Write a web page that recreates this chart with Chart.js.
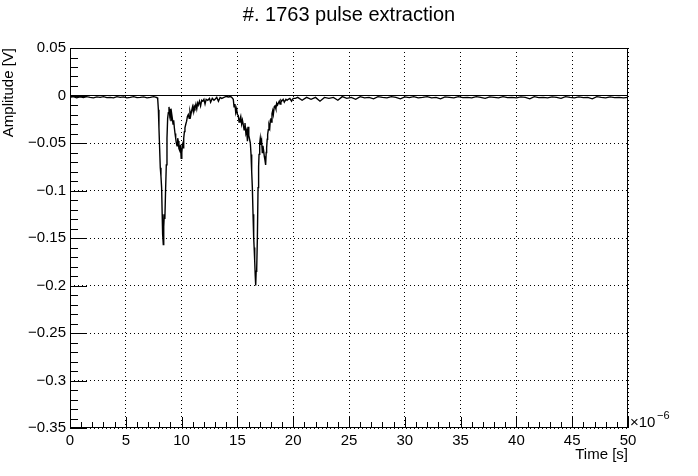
<!DOCTYPE html>
<html>
<head>
<meta charset="utf-8">
<title>#. 1763 pulse extraction</title>
<script src="https://cdn.jsdelivr.net/npm/chart.js@4.4.1/dist/chart.umd.min.js"></script>
<style>
  html, body { margin: 0; padding: 0; background: #fff; }
  #wrap { width: 698px; height: 476px; }
</style>
</head>
<body>
<div id="wrap"><canvas id="pulse" width="698" height="476"></canvas></div>
<script>
// waveform samples (time in µs, amplitude in V)
const waveTime = [
  // baseline before the first pulse
  0.0, 0.3, 0.6, 0.9, 1.2, 1.5, 1.8, 2.1, 2.4, 2.7,
  3.0, 3.3, 3.6, 3.9, 4.2, 4.5, 4.8, 5.1, 5.4, 5.7,
  6.0, 6.3, 6.6, 6.9, 7.2, 7.5, 7.8,
  // first pulse
  7.86, 7.92, 7.97, 8.03, 8.09, 8.15, 8.21, 8.26, 8.30, 8.36,
  8.40, 8.45, 8.50, 8.57, 8.63, 8.69, 8.75, 8.81, 8.87, 8.93,
  8.99, 9.05, 9.11, 9.17, 9.23, 9.29, 9.35, 9.41, 9.47, 9.53,
  9.59, 9.65, 9.70, 9.76, 9.83, 9.90, 9.96, 10.02, 10.08, 10.14,
  10.19, 10.25, 10.30, 10.38, 10.45, 10.52, 10.60, 10.68, 10.75, 10.82,
  10.90, 10.98, 11.05, 11.12, 11.20, 11.28, 11.36, 11.44, 11.50, 11.60,
  11.70, 11.80, 11.90, 12.00, 12.10, 12.20, 12.35, 12.50, 12.60, 12.75,
  12.90, 13.00, 13.15, 13.30, 13.45, 13.60, 13.80, 14.00, 14.20, 14.40,
  // second pulse
  14.50, 14.63, 14.70, 14.78, 14.85, 14.93, 15.00, 15.08, 15.15, 15.23,
  15.30, 15.38, 15.45, 15.53, 15.60, 15.68, 15.76, 15.83, 15.90, 15.96,
  16.02, 16.07, 16.16, 16.22, 16.28, 16.34, 16.40, 16.46, 16.50, 16.55,
  16.60, 16.64, 16.68, 16.73, 16.79, 16.85, 16.90, 16.94, 17.00, 17.05,
  17.11, 17.17, 17.23, 17.29, 17.35, 17.41, 17.47, 17.53, 17.58, 17.62,
  17.67, 17.71, 17.77, 17.83, 17.90, 17.95, 18.00, 18.05, 18.10, 18.16,
  18.22, 18.30, 18.37, 18.45, 18.52, 18.60, 18.67, 18.75, 18.82, 18.90,
  18.97, 19.10, 19.20, 19.35, 19.45, 19.56, 19.70, 19.85, 20.00, 20.20,
  // baseline after
  20.4, 20.8, 21.2, 21.6, 22.0, 22.4, 22.8, 23.2, 23.6, 24.0,
  24.4, 24.8, 25.2, 25.6, 26.0, 26.4, 26.8, 27.2, 27.6, 28.0,
  28.4, 28.8, 29.2, 29.6, 30.0, 30.4, 30.8, 31.2, 31.6, 32.0,
  32.4, 32.8, 33.2, 33.6, 34.0, 34.4, 34.8, 35.2, 35.6, 36.0,
  36.4, 36.8, 37.2, 37.6, 38.0, 38.4, 38.8, 39.2, 39.6, 40.0,
  40.4, 40.8, 41.2, 41.6, 42.0, 42.4, 42.8, 43.2, 43.6, 44.0,
  44.4, 44.8, 45.2, 45.6, 46.0, 46.4, 46.8, 47.2, 47.6, 48.0,
  48.4, 48.8, 49.2, 49.6, 50.0
];
const waveAmp = [
  // baseline before the first pulse
  -0.002, -0.0012, -0.0025, -0.0015, -0.0022, -0.0012, -0.002, -0.0025, -0.0015, -0.002,
  -0.0012, -0.0022, -0.002, -0.0025, -0.0012, -0.002, -0.0015, -0.0025, -0.002, -0.0012,
  -0.0022, -0.002, -0.0015, -0.0025, -0.002, -0.0012, -0.0022,
  // first pulse
  -0.004, -0.015, -0.034, -0.055, -0.076, -0.085, -0.097, -0.125, -0.146, -0.157,
  -0.138, -0.125, -0.130, -0.097, -0.073, -0.045, -0.024, -0.018, -0.012, -0.020,
  -0.014, -0.027, -0.019, -0.024, -0.030, -0.026, -0.034, -0.040, -0.045, -0.050,
  -0.053, -0.045, -0.048, -0.056, -0.058, -0.052, -0.066, -0.060, -0.052, -0.055,
  -0.045, -0.038, -0.034, -0.030, -0.027, -0.022, -0.020, -0.024, -0.017, -0.021,
  -0.016, -0.012, -0.017, -0.011, -0.013, -0.009, -0.014, -0.008, -0.010, -0.006,
  -0.011, -0.005, -0.006, -0.004, -0.009, -0.004, -0.005, -0.003, -0.007, -0.003,
  -0.005, -0.004, -0.002, -0.006, -0.002, -0.003, -0.002, -0.001, -0.0015, -0.001,
  // second pulse
  -0.002, -0.004, -0.012, -0.009, -0.018, -0.014, -0.020, -0.021, -0.028, -0.025,
  -0.022, -0.030, -0.026, -0.031, -0.036, -0.029, -0.040, -0.037, -0.048, -0.033,
  -0.042, -0.045, -0.050, -0.062, -0.080, -0.097, -0.125, -0.150, -0.160, -0.174,
  -0.190, -0.200, -0.185, -0.182, -0.150, -0.097, -0.075, -0.062, -0.050, -0.045,
  -0.052, -0.048, -0.060, -0.053, -0.058, -0.064, -0.068, -0.073, -0.060, -0.055,
  -0.046, -0.041, -0.036, -0.031, -0.034, -0.026, -0.024, -0.028, -0.019, -0.016,
  -0.020, -0.012, -0.011, -0.014, -0.008, -0.010, -0.008, -0.006, -0.009, -0.005,
  -0.006, -0.004, -0.007, -0.004, -0.005, -0.004, -0.003, -0.006, -0.003, -0.003,
  // baseline after
  -0.002, -0.005, -0.002, -0.004, -0.002, -0.006, -0.002, -0.003, -0.002, -0.005,
  -0.0012, -0.003, -0.002, -0.004, -0.0012, -0.0025, -0.002, -0.0035, -0.0012, -0.002,
  -0.0025, -0.0012, -0.002, -0.0035, -0.0015, -0.0022, -0.0012, -0.0025, -0.002, -0.0012,
  -0.0025, -0.002, -0.0035, -0.0015, -0.002, -0.0025, -0.0012, -0.0022, -0.002, -0.0025,
  -0.0012, -0.002, -0.003, -0.0015, -0.002, -0.0025, -0.0012, -0.0022, -0.002, -0.0025,
  -0.0015, -0.002, -0.0035, -0.0012, -0.0022, -0.002, -0.0025, -0.0015, -0.002, -0.003,
  -0.0012, -0.002, -0.0025, -0.0015, -0.0022, -0.002, -0.0035, -0.0012, -0.002, -0.0025,
  -0.0015, -0.0022, -0.002, -0.0025, -0.002
];

// zero reference line
const zeroLineTime = [0, 50];
const zeroLineAmp = [0, 0];

// axis ticks
const xTickValues = [0, 5, 10, 15, 20, 25, 30, 35, 40, 45, 50];
const xTickLabels = ['0', '5', '10', '15', '20', '25', '30', '35', '40', '45', '50'];
const yTickValues = [0.05, 0, -0.05, -0.1, -0.15, -0.2, -0.25, -0.3, -0.35];
const yTickLabels = ['0.05', '0', '\u22120.05', '\u22120.1', '\u22120.15', '\u22120.2', '\u22120.25', '\u22120.3', '\u22120.35'];

const FONT = "'Liberation Sans', Arial, Helvetica, sans-serif";

// ROOT look: frame, inward ticks, titles
const rootDecor = {
  id: 'rootDecor',
  afterDraw(chart) {
    const { ctx, chartArea: a, scales: { x, y } } = chart;
    ctx.save();
    ctx.strokeStyle = '#000';
    ctx.lineWidth = 1;
    ctx.strokeRect(a.left + 0.5, a.top + 0.5, a.right - a.left - 1, a.bottom - a.top - 1);

    ctx.beginPath();
    for (let i = 0; i <= 50; i++) {
      const px = Math.round(x.getPixelForValue(i)) + 0.5;
      const len = i % 5 === 0 ? 11 : 6;
      ctx.moveTo(px, a.bottom);
      ctx.lineTo(px, a.bottom - len);
    }
    for (let i = -35; i <= 5; i++) {
      const py = Math.round(y.getPixelForValue(i / 100)) + 0.5;
      const len = i % 5 === 0 ? 17 : 8;
      ctx.moveTo(a.left, py);
      ctx.lineTo(a.left + len, py);
    }
    ctx.stroke();

    ctx.fillStyle = '#000';
    // title
    ctx.font = '20px ' + FONT;
    ctx.textAlign = 'center';
    ctx.textBaseline = 'middle';
    ctx.fillText('#. 1763 pulse extraction', 349, 15);

    // x axis title
    ctx.font = '15px ' + FONT;
    ctx.textAlign = 'right';
    ctx.fillText('Time [s]', a.right, 455);

    // exponent
    ctx.textAlign = 'left';
    ctx.fillText('\u00d710', a.right + 2, 423);
    ctx.font = '11px ' + FONT;
    ctx.fillText('\u22126', a.right + 29, 416);

    // y axis title
    ctx.font = '15px ' + FONT;
    ctx.translate(9, a.top);
    ctx.rotate(-Math.PI / 2);
    ctx.textAlign = 'right';
    ctx.textBaseline = 'middle';
    ctx.fillText('Amplitude [V]', 0, 0);
    ctx.restore();
  }
};

new Chart(document.getElementById('pulse'), {
  type: 'scatter',
  data: {
    datasets: [
      {
        data: zeroLineTime.map((t, i) => ({ x: t, y: zeroLineAmp[i] })),
        showLine: true, borderColor: '#000', borderWidth: 1,
        pointRadius: 0, tension: 0
      },
      {
        data: waveTime.map((t, i) => ({ x: t, y: waveAmp[i] })),
        showLine: true, borderColor: '#000', borderWidth: 1.4,
        pointRadius: 0, tension: 0
      }
    ]
  },
  options: {
    responsive: false,
    animation: false,
    devicePixelRatio: 1,
    layout: { padding: { top: 48, right: 70, left: 0, bottom: 0 } },
    plugins: { legend: { display: false }, tooltip: { enabled: false }, title: { display: false } },
    scales: {
      x: {
        type: 'linear', min: 0, max: 50,
        afterFit: s => { s.height = 48; },
        afterBuildTicks: s => { s.ticks = xTickValues.map(v => ({ value: v })); },
        ticks: {
          padding: 4, color: '#000', maxRotation: 0, autoSkip: false,
          font: { family: FONT, size: 15 },
          callback: (v) => xTickLabels[xTickValues.indexOf(v)]
        },
        grid: { color: '#000', lineWidth: 1, drawTicks: false },
        border: { display: false, dash: [1, 3] }
      },
      y: {
        type: 'linear', min: -0.35, max: 0.05,
        afterFit: s => { s.width = 70; },
        afterBuildTicks: s => { s.ticks = yTickValues.map(v => ({ value: v })); },
        ticks: {
          padding: 4, color: '#000', autoSkip: false,
          font: { family: FONT, size: 15 },
          callback: (v) => yTickLabels[yTickValues.indexOf(v)]
        },
        grid: { color: '#000', lineWidth: 1, drawTicks: false },
        border: { display: false, dash: [1, 3] }
      }
    }
  },
  plugins: [rootDecor]
});
</script>
</body>
</html>
